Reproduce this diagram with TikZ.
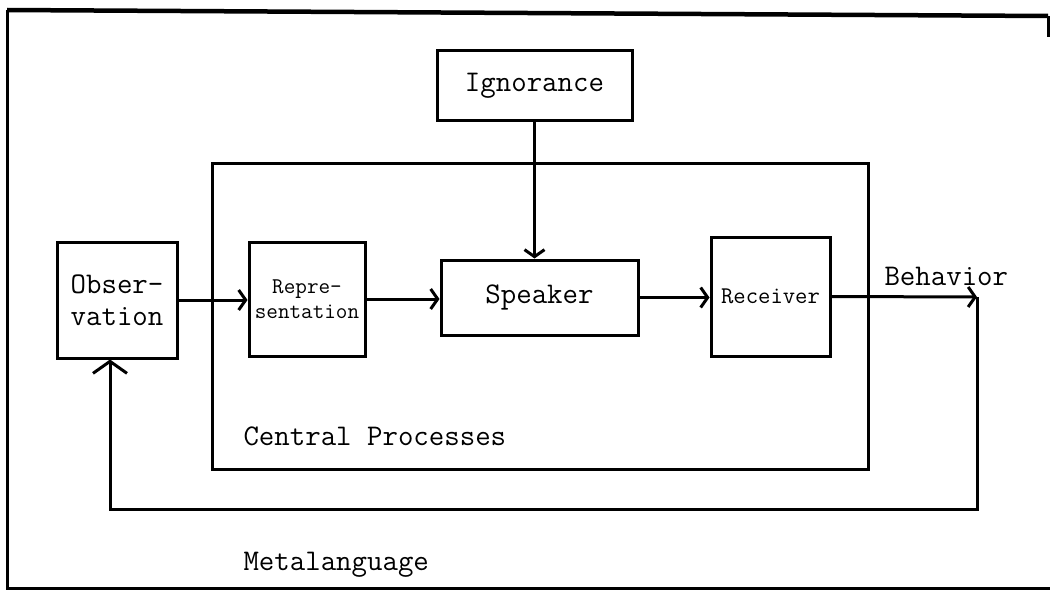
\documentclass[tikz,border=0pt]{standalone}
\usetikzlibrary{arrows.meta}
\begin{document}
\begin{tikzpicture}[x=1pt,y=-1pt,
  line width=3pt,
  box/.style={draw, rectangle, inner sep=0pt, align=center, font=\ttfamily\fontsize{30}{32}\selectfont},
  label/.style={anchor=base west, inner sep=0pt, font=\ttfamily\fontsize{30}{32}\selectfont},
  arr/.style={-{Straight Barb[length=7pt,width=20pt]}},
  bigarr/.style={-{Straight Barb[length=12pt,width=34pt]}}]
\useasboundingbox (0,0) rectangle (1050,594);

% outer frame (open on the right below the top stub)
\coordinate (fTR) at (1048,16);
\coordinate (fTL) at (7,10);
\coordinate (fBL) at (7,588);
\coordinate (fBR) at (1050,588);
\draw (1048,37) -- (fTR);
\draw[line width=4.5pt] (fTL) -- (fTR);
\draw (fTL) -- (fBL) -- (fBR);

% central processes frame
\node[draw, rectangle, minimum width=656pt, minimum height=306pt, inner sep=0pt] (central) at (540,316) {};
\node[label] (cplabel) at (242,445) {Central Processes};

% boxes
\node[box, minimum width=195pt, minimum height=69pt] (ign) at (534.5,85.5) {Ignorance};
\node[box, minimum width=120pt, minimum height=116pt] (obs) at (117,300) {Obser-\\vation};
\node[box, minimum width=116pt, minimum height=114pt, font=\ttfamily\fontsize{22.5}{25}\selectfont] (rep) at (307,299) {Repre-\\sentation};
\node[box, minimum width=197pt, minimum height=75pt] (spk) at (539.5,297.5) {Speaker};
\node[box, minimum width=119pt, minimum height=119pt, font=\ttfamily\fontsize{24}{26}\selectfont] (rcv) at (770.5,296.5) {Receiver};

% flow through the central processes
\draw[arr] (obs.east) -- (obs.east -| rep.west);
\draw[arr] (rep.east) -- (rep.east -| spk.west);
\draw[arr] (spk.east) -- (spk.east -| rcv.west);
\draw[arr] (ign.south) -- (ign.south |- spk.north);

% behavior output and metalanguage feedback loop
\coordinate (beh) at (977,297);
\coordinate (fbR) at (977,509);
\draw[arr] (rcv.east) -- (beh);
\node[label] (behlabel) at (883,285) {Behavior};
\draw[bigarr] (beh) -- (fbR) -| ([xshift=-7pt]obs.south);
\node[label] (metalabel) at (242,570) {Metalanguage};
\end{tikzpicture}
\end{document}
